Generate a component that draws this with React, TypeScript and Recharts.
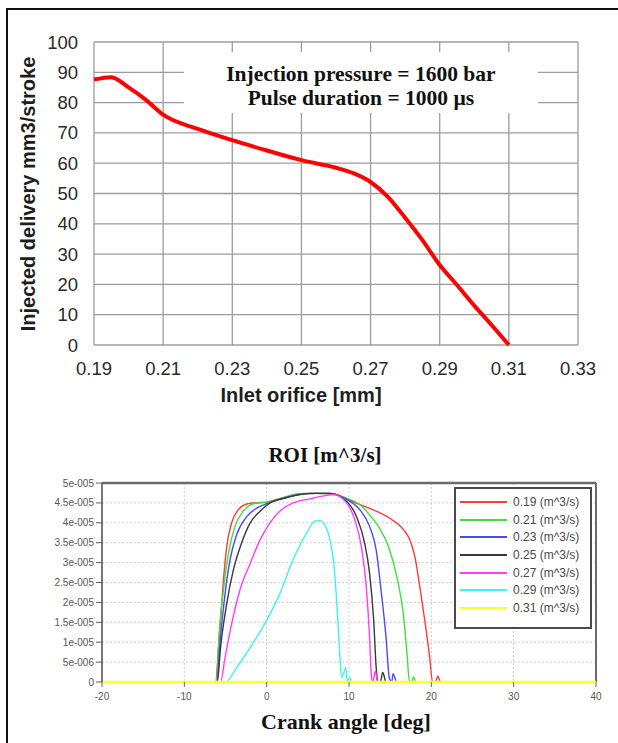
import React from 'react'
import {
  LineChart,
  Line,
  XAxis,
  YAxis,
  CartesianGrid,
  ReferenceArea,
  ReferenceLine,
  Legend,
} from 'recharts'

// --- top chart: injected delivery vs inlet orifice ---
const orificeMm = [0.19, 0.195, 0.2, 0.205, 0.21, 0.22, 0.23, 0.24, 0.25, 0.26, 0.265, 0.27, 0.275, 0.28, 0.285, 0.29, 0.295, 0.3, 0.305, 0.31]
const deliveryMm3 = [87.6, 88.4, 85, 80.9, 76, 71.3, 67.6, 64.2, 61, 58.5, 56.7, 53.8, 48.9, 42, 34.6, 26.4, 19.8, 13, 6.6, 0]
const orificeTicks = [0.19, 0.21, 0.23, 0.25, 0.27, 0.29, 0.31, 0.33]
const deliveryTicks = [0, 10, 20, 30, 40, 50, 60, 70, 80, 90, 100]

// --- bottom chart: rate of injection, [crank deg, rate in 1e-5 m^3/s] ---
const roi019: [number, number][] = [[-20, 0], [-6.2, 0], [-5.85, 0.87], [-5.55, 1.71], [-5.25, 2.56], [-4.85, 3.4], [-4.25, 4.0], [-3.45, 4.33], [-2.6, 4.46], [-1.6, 4.5], [0, 4.52], [2, 4.63], [4, 4.73], [6, 4.74], [7.9, 4.73], [9.7, 4.6], [11.3, 4.46], [12.9, 4.33], [14.9, 4.12], [16.6, 3.83], [17.4, 3.57], [18.0, 3.15], [18.6, 2.39], [19.2, 1.55], [19.8, 0.62], [20.15, 0], [20.5, 0], [20.8, 0.15], [21.1, 0], [40, 0]]
const roi021: [number, number][] = [[-20, 0], [-6.1, 0], [-5.75, 1.29], [-5.25, 2.3], [-4.65, 3.23], [-3.85, 3.91], [-2.85, 4.29], [-1.6, 4.48], [0, 4.52], [2, 4.63], [4, 4.73], [6, 4.74], [7.9, 4.73], [9.7, 4.62], [11.3, 4.46], [12.5, 4.2], [13.8, 3.83], [14.8, 3.4], [15.9, 2.56], [16.6, 1.71], [17.05, 0.7], [17.35, 0], [17.6, 0], [17.85, 0.13], [18.1, 0], [40, 0]]
const roi023: [number, number][] = [[-20, 0], [-6.05, 0], [-5.65, 1.04], [-5.05, 2.22], [-4.45, 3.07], [-3.65, 3.7], [-2.4, 4.16], [-1.2, 4.37], [0, 4.48], [1.6, 4.59], [4, 4.71], [6, 4.74], [7.7, 4.74], [9.7, 4.59], [11.3, 4.33], [12.5, 3.91], [13.3, 3.32], [13.9, 2.3], [14.5, 1.12], [14.9, 0.1], [15.2, 0], [15.35, 0.21], [15.8, 0], [40, 0]]
const roi025: [number, number][] = [[-20, 0], [-6.0, 0], [-5.6, 0.87], [-4.85, 1.97], [-4.05, 2.81], [-3.05, 3.49], [-2.0, 4.0], [-0.8, 4.29], [0.4, 4.5], [2.4, 4.63], [5.2, 4.74], [7.7, 4.74], [9.7, 4.54], [10.9, 4.16], [11.9, 3.49], [12.5, 2.73], [13.0, 1.55], [13.3, 0.36], [13.5, 0], [13.8, 0], [14.1, 0.24], [14.5, 0], [40, 0]]
const roi027: [number, number][] = [[-20, 0], [-5.6, 0], [-5.05, 0.62], [-4.25, 1.46], [-3.25, 2.31], [-2.0, 2.98], [-0.8, 3.57], [0.4, 4.0], [1.6, 4.29], [3.2, 4.5], [5.2, 4.6], [7.3, 4.69], [8.1, 4.71], [9.7, 4.5], [10.7, 4.08], [11.5, 3.4], [12.1, 2.39], [12.5, 1.12], [12.7, 0.19], [12.9, 0], [13.2, 0.28], [13.45, 0], [40, 0]]
const roi029: [number, number][] = [[-20, 0], [-4.95, 0], [-3.65, 0.36], [-2.0, 0.87], [0, 1.55], [1.6, 2.22], [3.2, 3.07], [4.85, 3.74], [5.85, 4.04], [6.45, 4.06], [7.05, 3.95], [7.7, 3.57], [8.15, 2.98], [8.55, 1.88], [8.9, 0.62], [9.1, 0.11], [9.3, 0.19], [9.6, 0.36], [9.8, 0], [10.1, 0.11], [10.4, 0], [40, 0]]
const roi031: [number, number][] = [[-20, 0], [40, 0]]

const roiNames = ['0.19 (m^3/s)', '0.21 (m^3/s)', '0.23 (m^3/s)', '0.25 (m^3/s)', '0.27 (m^3/s)', '0.29 (m^3/s)', '0.31 (m^3/s)']
const roiColors = ['#ff3a3a', '#3ee03e', '#4848ff', '#383838', '#ff3cff', '#3cf4f4', '#ffff30']
const roiSeries = [roi019, roi021, roi023, roi025, roi027, roi029, roi031]

const crankTicks = [-20, -10, 0, 10, 20, 30, 40]
const roiTicks = [0, 0.5, 1, 1.5, 2, 2.5, 3, 3.5, 4, 4.5, 5]
const roiTickLabels = ['0', '5e-006', '1e-005', '1.5e-005', '2e-005', '2.5e-005', '3e-005', '3.5e-005', '4e-005', '4.5e-005', '5e-005']

// minor tick marks only (no labels)
const crankMinorTicks = Array.from({ length: 25 }, (_, i) => -20 + i * 2.5)
const roiMinorTicks = Array.from({ length: 51 }, (_, i) => i / 10)

const SANS = 'Arial, "Liberation Sans", sans-serif'
const SERIF = '"Times New Roman", "Liberation Serif", serif'

const deliveryData = orificeMm.map((x, i) => ({ orifice: x, delivery: deliveryMm3[i] }))

const toPoints = (pts: [number, number][]) => pts.map(([angle, rate]) => ({ angle, rate }))

const PressureNote = (props: any) => {
  const { x, y, width } = props.viewBox
  const cx = x + width / 2
  return (
    <text textAnchor="middle" fontFamily={SERIF} fontWeight="bold" fontSize={21.5} fill="#111">
      <tspan x={cx} y={y + 29}>Injection pressure = 1600 bar</tspan>
      <tspan x={cx} y={y + 53}>Pulse duration = 1000 µs</tspan>
    </text>
  )
}

function DeliveryChart() {
  return (
    <LineChart width={618} height={420} data={deliveryData} margin={{ top: 42, right: 40, left: 0, bottom: 0 }}>
      <CartesianGrid stroke="#9c9c9c" strokeWidth={1.3} />
      <XAxis
        type="number"
        dataKey="orifice"
        domain={[0.19, 0.33]}
        ticks={orificeTicks}
        interval={0}
        height={75}
        axisLine={false}
        tickLine={false}
        tickMargin={11}
        tickFormatter={(v: number) => v.toFixed(2)}
        tick={{ fill: '#2a2a2a', fontSize: 18.5, fontFamily: SANS }}
        label={{
          content: () => (
            <text x={301} y={402} textAnchor="middle" fontFamily={SANS} fontWeight="bold" fontSize={20} fill="#1e1e1e">
              Inlet orifice [mm]
            </text>
          ),
        }}
      />
      <YAxis
        type="number"
        domain={[0, 100]}
        ticks={deliveryTicks}
        interval={0}
        width={94}
        axisLine={false}
        tickLine={false}
        tickMargin={10}
        tick={{ fill: '#2a2a2a', fontSize: 18.5, fontFamily: SANS }}
        label={{
          content: () => (
            <text x={35} y={194} transform="rotate(-90 35 194)" textAnchor="middle" fontFamily={SANS} fontWeight="bold" fontSize={20} fill="#1e1e1e">
              Injected delivery mm3/stroke
            </text>
          ),
        }}
      />
      <ReferenceArea x1={0.216} x2={0.3184} y1={76.6} y2={96.7} fill="#ffffff" fillOpacity={1} stroke="none" label={PressureNote} />
      <Line type="monotone" dataKey="delivery" stroke="#ff0000" strokeWidth={4} dot={false} isAnimationActive={false} />
    </LineChart>
  )
}

// legend box drawn from the series names/colours in the same order as the plot
const RoiLegend = () => (
  <div style={{ width: 134, height: 134, border: '2px solid #4a4a4a', background: '#fff', paddingTop: 4 }}>
    {roiNames.map((name, i) => (
      <div key={name} style={{ display: 'flex', alignItems: 'center', height: 17.7 }}>
        <svg width={51} height={6} style={{ display: 'block' }}>
          <line x1={4} x2={51} y1={3} y2={3} stroke={roiColors[i]} strokeWidth={2} />
        </svg>
        <span style={{ marginLeft: 6, fontFamily: SANS, fontSize: 12, color: '#4a4a4a', lineHeight: '14px' }}>{name}</span>
      </div>
    ))}
  </div>
)

const roiMargin = { top: 53, right: 22, left: 0, bottom: 0 }

function RoiChart() {
  return (
    <LineChart width={618} height={313} margin={roiMargin}>
      <text x={325} y={32} textAnchor="middle" fontFamily={SERIF} fontWeight="bold" fontSize={21} fill="#111">
        ROI [m^3/s]
      </text>
      <CartesianGrid stroke="#cdcdcd" strokeDasharray="2 2" />
      <XAxis
        type="number"
        dataKey="angle"
        domain={[-20, 40]}
        ticks={crankTicks}
        interval={0}
        height={61}
        axisLine={false}
        tickLine={{ stroke: '#666' }}
        tickSize={5}
        tickMargin={6}
        tick={{ fill: '#555', fontSize: 10, fontFamily: SANS }}
        label={{
          content: () => (
            <text x={346} y={299} textAnchor="middle" fontFamily={SERIF} fontWeight="bold" fontSize={22} fill="#111">
              Crank angle [deg]
            </text>
          ),
        }}
      />
      <YAxis
        type="number"
        domain={[0, 5]}
        ticks={roiTicks}
        interval={0}
        width={102}
        axisLine={{ stroke: '#5a5a5a', strokeWidth: 1.6 }}
        tickLine={{ stroke: '#5a5a5a' }}
        tickSize={6}
        tickMargin={2}
        tickFormatter={(v: number) => roiTickLabels[roiTicks.indexOf(v)]}
        tick={{ fill: '#555', fontSize: 10, fontFamily: SANS }}
      />
      <ReferenceLine y={5} stroke="#6a6a6a" strokeWidth={2.5} />
      <ReferenceLine x={40} stroke="#6a6a6a" strokeWidth={2} />
      {roiSeries.map((pts, i) => (
        <Line
          key={roiNames[i]}
          data={toPoints(pts)}
          dataKey="rate"
          name={roiNames[i]}
          type="monotone"
          stroke={roiColors[i]}
          strokeWidth={i === 6 ? 2.4 : 1.4}
          dot={false}
          isAnimationActive={false}
        />
      ))}
      <Legend
        layout="vertical"
        align="center"
        verticalAlign="middle"
        wrapperStyle={{ left: 454, top: 57, width: 138, height: 138 }}
        content={RoiLegend}
      />
    </LineChart>
  )
}

// transparent overlay that only adds the small minor tick marks
function RoiMinorTicks() {
  return (
    <LineChart width={618} height={313} margin={roiMargin} data={[]}>
      <XAxis
        type="number"
        dataKey="angle"
        domain={[-20, 40]}
        ticks={crankMinorTicks}
        interval={0}
        height={61}
        axisLine={false}
        tickLine={{ stroke: '#666' }}
        tickSize={3}
        tick={false}
      />
      <YAxis
        type="number"
        domain={[0, 5]}
        ticks={roiMinorTicks}
        interval={0}
        width={102}
        axisLine={false}
        tickLine={{ stroke: '#666' }}
        tickSize={3}
        tick={false}
      />
    </LineChart>
  )
}

export default function App() {
  return (
    <div style={{ position: 'absolute', left: 0, top: 0, width: 618, height: 743, background: '#fff', overflow: 'hidden' }}>
      <div style={{ position: 'absolute', left: 6, top: 8, width: 640, height: 780, borderLeft: '2px solid #111', borderTop: '2px solid #111' }} />
      <div style={{ position: 'absolute', left: 0, top: 0 }}>
        <DeliveryChart />
      </div>
      <div style={{ position: 'absolute', left: 0, top: 430 }}>
        <RoiChart />
      </div>
      <div style={{ position: 'absolute', left: 0, top: 430, pointerEvents: 'none' }}>
        <RoiMinorTicks />
      </div>
    </div>
  )
}
